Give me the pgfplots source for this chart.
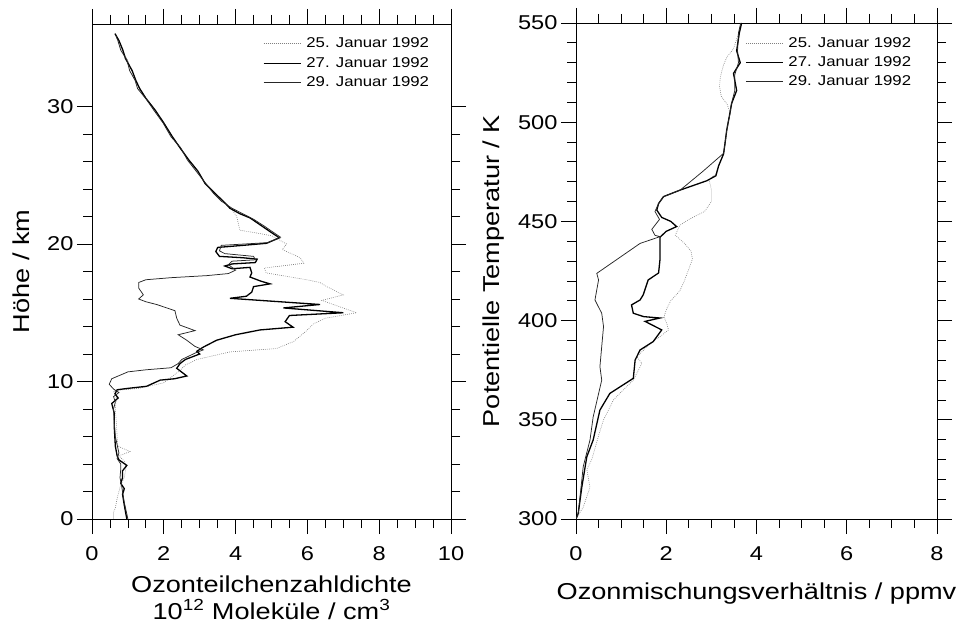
\documentclass[border=0pt]{standalone}
\usepackage{fontspec}
\setmainfont{Liberation Sans}[FakeStretch=1.18]
\usepackage{pgfplots}
\pgfplotsset{compat=1.18}

\newcommand{\labfont}{\fontsize{23}{27}\selectfont}
\newcommand{\tickfont}{\fontsize{20}{24}\selectfont}
\newcommand{\legfont}{\fontsize{14.2}{17}\selectfont}

\pgfplotsset{
  myaxis/.style={
    scale only axis,
    anchor=south west,
    axis line style={line width=0.9pt},
    every tick/.style={black, line width=0.8pt},
    tick align=outside,
    major tick length=15pt,
    minor tick length=9pt,
    /pgf/number format/assume math mode=true,
    tick label style={font=\tickfont},
    xticklabel style={yshift=-9pt},
    label style={font=\labfont},
    legend cell align=left,
    legend style={draw=none, fill=none, font=\legfont, anchor=north west, inner sep=0pt, row sep=4pt, column sep=3pt},
    legend image code/.code={\draw[##1] (0pt,0pt) -- (37pt,0pt);},
  },
  s25/.style={black!50, line width=0.6pt, dash pattern=on 0.8pt off 1.2pt},
  s27/.style={black, line width=1.3pt},
  s29/.style={black!85, line width=0.75pt},
}

\begin{document}
\begin{tikzpicture}
\path[use as bounding box] (0pt,0pt) rectangle (964pt,637pt);

\begin{axis}[myaxis, at={(92pt,118pt)}, width=359pt, height=495pt,
  xmin=0, xmax=10, ymin=0, ymax=36,
  xtick={0,2,...,10}, minor x tick num=3,
  ytick={0,10,20,30}, minor y tick num=4,
  xlabel={Ozonteilchenzahldichte\\10\textsuperscript{12} Moleküle / cm\textsuperscript{3}},
  xlabel style={at={(axis description cs:0.5,0)}, anchor=north, inner sep=0pt, yshift=-57pt, align=center},
  ylabel={Höhe / km},
  ylabel style={at={(axis description cs:-0.172,0.5)}, anchor=south, inner sep=0pt},
  legend style={at={(axis description cs:0.476,0.976)}},
]
% 25. Januar 1992
\addplot[s25] coordinates {
(0.68,35.0)(0.76,34.5)(0.86,34.0)(1.0,33.3)(1.1,32.6)(1.22,31.9)(1.31,31.3)(1.54,30.5)(1.77,29.7)(2.0,28.8)(2.23,27.8)(2.46,27.0)(2.7,26.1)(2.93,25.3)(3.16,24.4)(3.38,23.7)
(3.66,23.1)(3.9,22.5)(4.03,22.0)(4.12,21.0)(4.59,20.8)(5.0,20.6)(5.42,20.0)(5.3,19.6)(5.8,19.0)(5.9,18.6)(4.8,18.25)(4.85,17.9)(5.98,17.4)(6.35,17.2)(6.54,16.9)(7.0,16.3)(6.4,15.9)(7.37,15.0)(6.5,14.6)(6.17,14.2)(5.98,13.7)(5.61,12.9)(5.14,12.4)(3.84,12.15)(2.92,11.6)(2.6,11.2)(2.45,10.8)(2.2,10.3)(1.99,9.9)(1.3,9.5)(0.87,9.4)(0.6,9.3)(0.68,8.8)(0.65,8.0)(0.68,7.0)(0.7,6.0)(0.72,5.3)(1.06,4.9)(0.75,4.6)(0.9,4.2)(0.95,3.8)(0.9,3.0)(0.8,2.5)(0.7,1.5)(0.65,0.8)(0.6,0.5)(0.6,0.0)
};
\addlegendentry{25. Januar 1992}
% 27. Januar 1992
\addplot[s27] coordinates {
(0.64,35.3)(0.75,34.8)(0.86,34.1)(0.93,33.5)(1.12,32.6)(1.22,31.9)(1.33,31.3)(1.5,30.6)(1.77,29.7)(2.0,28.8)(2.24,27.8)(2.45,27.0)(2.7,26.1)(2.95,25.3)(3.15,24.4)(3.42,23.7)(3.7,23.0)
(3.84,22.6)(4.12,22.2)(4.4,21.9)(4.68,21.4)(4.96,20.9)(5.22,20.45)(4.86,20.05)(4.2,19.9)(3.5,19.75)(3.45,19.45)(3.55,19.1)(4.2,19.0)(4.6,18.9)(4.55,18.65)(3.9,18.55)(3.7,18.4)(3.9,18.2)(4.4,18.3)(4.45,17.9)(4.4,17.6)(4.7,17.3)(4.96,17.1)(4.5,16.9)(4.45,16.5)(4.3,16.2)(3.84,16.05)(6.35,15.6)(5.33,15.35)(7.0,15.0)(5.5,14.8)(5.38,14.35)(5.6,13.95)(4.68,13.75)(4.0,13.4)(3.47,13.0)(3.1,12.5)(2.92,12.2)(3.0,12.0)(2.6,11.6)(2.45,11.3)(2.36,10.96)(2.64,10.4)(2.3,10.2)(1.9,10.1)(1.52,9.65)(1.0,9.5)(0.7,9.4)(0.64,9.1)(0.73,8.8)(0.55,8.4)(0.62,7.7)(0.62,6.7)(0.65,5.3)(0.7,4.6)(0.75,4.3)(0.97,3.9)(0.85,3.5)(0.85,3.0)(0.8,2.6)(0.9,2.2)(0.85,1.8)(0.9,1.0)(0.97,0.0)
};
\addlegendentry{27. Januar 1992}
% 29. Januar 1992
\addplot[s29] coordinates {
(0.66,35.2)(0.72,34.8)(0.8,34.1)(0.97,33.4)(1.05,32.6)(1.2,31.9)(1.27,31.3)(1.52,30.5)(1.73,29.7)(1.98,28.8)(2.2,27.8)(2.47,27.0)(2.66,26.1)(2.9,25.3)(3.17,24.4)(3.38,23.7)(3.61,23.1)
(3.9,22.6)(4.2,22.2)(4.5,21.8)(4.8,21.3)(5.05,20.85)(5.25,20.5)(4.9,20.1)(3.6,19.9)(3.55,19.5)(3.7,19.3)(4.5,19.1)(4.55,18.85)(3.9,18.75)(3.8,18.5)(4.0,18.1)(3.8,17.85)(3.2,17.7)(2.2,17.55)(1.5,17.4)(1.3,17.2)(1.3,16.8)(1.43,16.3)(1.3,16.0)(1.5,15.8)(1.8,15.6)(2.31,15.15)(2.36,14.6)(2.45,14.1)(2.87,13.7)(2.4,13.4)(2.64,13.0)(2.87,12.55)(3.1,12.3)(2.9,12.1)(2.5,11.6)(2.4,11.3)(2.2,11.0)(1.5,10.85)(1.0,10.7)(0.55,10.2)(0.48,9.8)(0.6,9.45)(0.75,9.2)(0.6,8.9)(0.65,8.5)(0.6,8.0)(0.62,7.0)(0.65,6.0)(0.7,5.4)(0.75,4.8)(0.7,4.4)(0.8,4.0)(0.8,3.6)(0.78,3.0)(0.82,2.5)(0.85,2.0)(0.9,1.2)(1.0,0.0)
};
\addlegendentry{29. Januar 1992}
\end{axis}

\begin{axis}[myaxis, at={(576pt,118pt)}, width=361pt, height=496pt,
  xmin=0, xmax=8, ymin=300, ymax=550,
  xtick={0,2,4,6,8}, minor x tick num=3,
  ytick={300,350,...,550}, minor y tick num=4,
  xlabel={Ozonmischungsverhältnis / ppmv},
  xlabel style={at={(axis description cs:0.5,0)}, anchor=north, inner sep=0pt, yshift=-64pt},
  ylabel={Potentielle Temperatur / K},
  ylabel style={at={(axis description cs:-0.199,0.5)}, anchor=south, inner sep=0pt},
  legend style={at={(axis description cs:0.468,0.976)}},
]
% 25. Januar 1992
\addplot[s25] coordinates {
(3.67,550)(3.62,546)(3.49,537)(3.35,533)(3.27,529)(3.2,523)(3.18,518)(3.22,513)(3.35,509)(3.41,505)(3.36,498)(3.32,491)(3.28,485)(3.2,480)(3.1,474)(2.95,471)(3.0,466)(3.0,460)(2.85,455)(2.5,451)(2.3,448)(2.2,443)(2.4,439)(2.55,435)(2.58,431)(2.5,426)(2.4,420)(2.3,415)(2.1,410)(2.01,406)(1.95,402)(2.01,398.6)(2.05,395.3)(1.86,391.9)(1.64,388.5)(1.35,381.7)(1.46,378.5)(1.27,370)(1.0,364)(0.83,360)(0.7,354)(0.61,350)(0.5,342)(0.35,330)(0.24,325)(0.31,316)(0.16,306)(0,300)
};
\addlegendentry{25. Januar 1992}
% 27. Januar 1992
\addplot[s27] coordinates {
(3.67,550)(3.62,545)(3.56,536)(3.64,530)(3.49,524.6)(3.56,516)(3.45,509.5)(3.41,504.5)(3.34,496)(3.3,489)(3.27,484)(3.16,478)(3.1,473)(2.9,470.5)(2.31,465.8)(1.94,462.5)(1.83,459)(1.79,455.7)(1.9,452)(2.1,450)(2.23,447.4)(2.0,445)(1.86,442)(1.86,436)(1.86,430.5)(1.83,424)(1.6,420.5)(1.49,413)(1.42,410.4)(1.23,407.9)(1.27,403.7)(1.5,402)(1.86,401.3)(1.53,399.6)(1.9,395.3)(1.71,389.4)(1.42,385.2)(1.31,380.1)(1.27,370.9)(0.75,363.3)(0.53,354.9)(0.38,339.8)(0.24,331.4)(0.13,316.3)(0.05,302.9)(0,300)
};
\addlegendentry{27. Januar 1992}
% 29. Januar 1992
\addplot[s29] coordinates {
(3.65,550)(3.6,545)(3.58,536)(3.6,530)(3.52,524)(3.52,516)(3.44,509)(3.41,504)(3.34,496)(3.3,489)(3.27,484.3)(2.8,475)(2.31,465.8)(1.94,462.5)(1.83,459)(1.75,455)(1.85,451)(1.68,446)(1.75,443)(1.86,442.3)(1.42,438.9)(0.46,423.8)(0.5,420.5)(0.42,410.4)(0.57,403.7)(0.61,397)(0.53,376.8)(0.57,370)(0.38,351.4)(0.31,339.8)(0.16,326.4)(0.05,302.9)(0,300)
};
\addlegendentry{29. Januar 1992}
\end{axis}
\end{tikzpicture}
\end{document}
